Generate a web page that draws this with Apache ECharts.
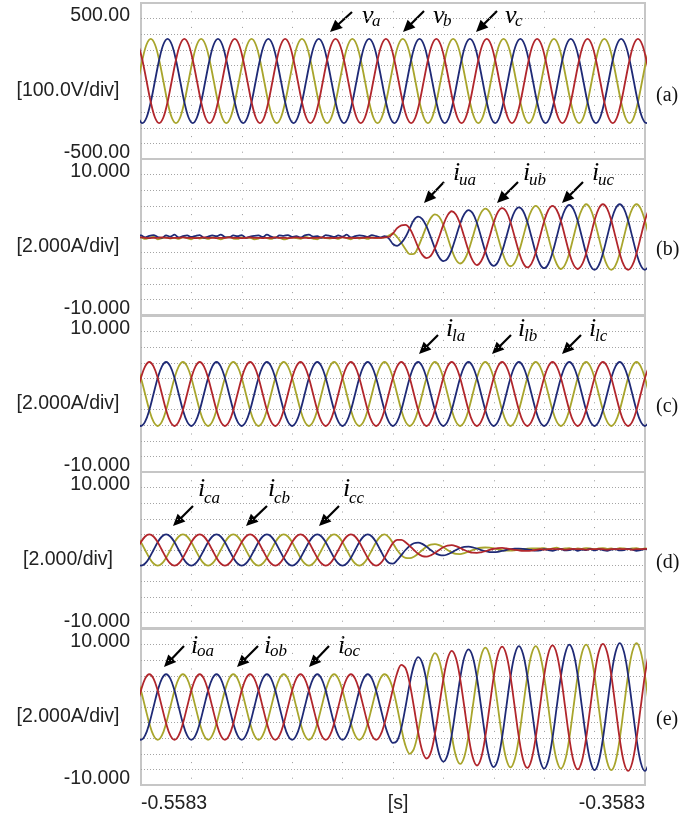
<!DOCTYPE html>
<html>
<head>
<meta charset="utf-8">
<script src="https://cdn.jsdelivr.net/npm/echarts@6.0.0/dist/echarts.min.js"></script>
<style>
html,body{margin:0;padding:0;background:#ffffff;}
#chart{width:699px;height:822px;}
</style>
</head>
<body>
<div id="chart"></div>
<script>
// ================= DATA =================
const sampleStepMs = 20 / 12;                         // spacing of the stored samples (ms)
const panelStartMs = [-1.13, -1.7, -1.7, -1.7, -1.7];  // time of the first stored sample, ms after -0.5583 s
const yLimits = [500, 10, 10, 10, 10];
const yTopLabels = ['500.00', '10.000', '10.000', '10.000', '10.000'];
const yBottomLabels = ['-500.00', '-10.000', '-10.000', '-10.000', '-10.000'];
const yUnitLabels = ['[100.0V/div]', '[2.000A/div]', '[2.000A/div]', '[2.000/div]', '[2.000A/div]'];
const panelLetters = ['(a)', '(b)', '(c)', '(d)', '(e)'];
const xTickValues = [0, 102, 200];
const xTickLabels = ['-0.5583', '[s]', '-0.3583'];

// (a) grid voltages, V
const va = [
234,135,0,-135,-234,-270,-234,-135,0,135,234,270,
234,135,0,-135,-234,-270,-234,-135,0,135,234,270,
234,135,0,-135,-234,-270,-234,-135,0,135,234,270,
234,135,0,-135,-234,-270,-234,-135,0,135,234,270,
234,135,0,-135,-234,-270,-234,-135,0,135,234,270,
234,135,0,-135,-234,-270,-234,-135,0,135,234,270,
234,135,0,-135,-234,-270,-234,-135,0,135,234,270,
234,135,0,-135,-234,-270,-234,-135,0,135,234,270,
234,135,0,-135,-234,-270,-234,-135,0,135,234,270,
234,135,0,-135,-234,-270,-234,-135,0,135,234,270,
234,135,0];
const vb = [
0,135,234,270,234,135,0,-135,-234,-270,-234,-135,
0,135,234,270,234,135,0,-135,-234,-270,-234,-135,
0,135,234,270,234,135,0,-135,-234,-270,-234,-135,
0,135,234,270,234,135,0,-135,-234,-270,-234,-135,
0,135,234,270,234,135,0,-135,-234,-270,-234,-135,
0,135,234,270,234,135,0,-135,-234,-270,-234,-135,
0,135,234,270,234,135,0,-135,-234,-270,-234,-135,
0,135,234,270,234,135,0,-135,-234,-270,-234,-135,
0,135,234,270,234,135,0,-135,-234,-270,-234,-135,
0,135,234,270,234,135,0,-135,-234,-270,-234,-135,
0,135,234];
const vc = [
-234,-270,-234,-135,0,135,234,270,234,135,0,-135,
-234,-270,-234,-135,0,135,234,270,234,135,0,-135,
-234,-270,-234,-135,0,135,234,270,234,135,0,-135,
-234,-270,-234,-135,0,135,234,270,234,135,0,-135,
-234,-270,-234,-135,0,135,234,270,234,135,0,-135,
-234,-270,-234,-135,0,135,234,270,234,135,0,-135,
-234,-270,-234,-135,0,135,234,270,234,135,0,-135,
-234,-270,-234,-135,0,135,234,270,234,135,0,-135,
-234,-270,-234,-135,0,135,234,270,234,135,0,-135,
-234,-270,-234,-135,0,135,234,270,234,135,0,-135,
-234,-270,-234];

// (b) compensator currents iu, A
const iua = [
-0.1,-0.05,-0.1,-0.15,-0.1,-0.1,-0.05,-0.1,-0.15,-0.1,-0.1,-0.05,
-0.1,-0.1,-0.15,-0.1,-0.05,-0.1,-0.1,-0.15,-0.1,-0.1,-0.05,-0.1,
-0.1,-0.15,-0.1,-0.05,-0.1,-0.1,-0.15,-0.1,-0.1,-0.05,-0.1,-0.1,
-0.15,-0.1,-0.05,-0.1,-0.1,-0.15,-0.1,-0.1,-0.05,-0.1,-0.1,-0.15,
-0.1,-0.05,-0.1,-0.1,-0.15,-0.1,-0.1,-0.05,-0.1,-0.1,-0.1,-0.05,
0,0.45,1.13,1.5,1.56,1.1,0,-1.3,-2.29,-2.7,-2.42,-1.45,
0,1.55,2.77,3.3,2.9,1.7,0,-1.73,-3.03,-3.6,-3.12,-1.83,
0,1.85,3.2,3.7,3.25,1.88,0,-1.9,-3.33,-3.9,-3.42,-2,
0,2,3.46,4,3.46,2.05,0,-2.05,-3.55,-4.1,-3.55,-2.1,
0,2.1,3.64,4.2,3.64,2.1,0,-2.1,-3.64,-4.2,-3.64,-2.1,
0,2.1,3.64];
const iub = [
0.1,0.2,-0.05,0.15,0.25,0,-0.1,0.2,0.05,0.3,-0.05,0.1,
0.2,0,0.15,0.25,-0.1,0.05,0.2,0.1,0.3,0,-0.05,0.2,
0.1,0.25,-0.1,0.05,0.15,0.2,0,0.3,0.05,-0.1,0.2,0.15,
0.25,0,0.1,-0.05,0.2,0.3,0.05,0.1,-0.1,0.25,0.15,0,
0.2,0.05,0.3,-0.05,0.1,0.2,0.15,0,0.25,0.1,-0.05,0.1,
-0.17,-0.9,-1.13,-0.75,0,1.1,2.17,2.6,2.29,1.35,0,-1.45,
-2.6,-3.1,-2.77,-1.65,0,1.7,2.94,3.45,3.03,1.8,0,-1.83,
-3.2,-3.7,-3.2,-1.85,0,1.88,3.29,3.8,3.33,1.95,0,-2,
-3.46,-4,-3.46,-2,0,2.05,3.55,4.1,3.55,2.05,0,-2.1,
-3.64,-4.2,-3.64,-2.1,0,2.1,3.64,4.2,3.64,2.1,0,-2.1,
-3.64,-4.2,-3.64];
const iuc = [
-0.2,-0.05,-0.25,-0.1,0,-0.3,-0.15,-0.05,-0.2,-0.1,-0.25,0,
-0.15,-0.3,-0.05,-0.2,-0.1,-0.25,-0.05,-0.15,-0.3,-0.1,0,-0.2,
-0.25,-0.05,-0.15,-0.1,-0.3,-0.2,0,-0.15,-0.25,-0.05,-0.1,-0.3,
-0.2,-0.05,-0.15,-0.25,0,-0.1,-0.2,-0.3,-0.05,-0.15,-0.2,-0.1,
-0.25,0,-0.15,-0.3,-0.05,-0.2,-0.1,-0.25,-0.05,-0.15,-0.1,-0.05,
0.17,0.45,0,-0.75,-1.56,-2.2,-2.17,-1.3,0,1.35,2.42,2.9,
2.6,1.55,0,-1.65,-2.9,-3.4,-2.94,-1.73,0,1.8,3.12,3.65,
3.2,1.85,0,-1.85,-3.25,-3.75,-3.29,-1.9,0,1.95,3.42,4,
3.46,2,0,-2,-3.46,-4.1,-3.55,-2.05,0,2.05,3.55,4.2,
3.64,2.1,0,-2.1,-3.64,-4.2,-3.64,-2.1,0,2.1,3.64,4.2,
3.64,2.1,0];

// (c) load currents il, A
const ila = [
0,2.05,3.55,4.1,3.55,2.05,0,-2.05,-3.55,-4.1,-3.55,-2.05,
0,2.05,3.55,4.1,3.55,2.05,0,-2.05,-3.55,-4.1,-3.55,-2.05,
0,2.05,3.55,4.1,3.55,2.05,0,-2.05,-3.55,-4.1,-3.55,-2.05,
0,2.05,3.55,4.1,3.55,2.05,0,-2.05,-3.55,-4.1,-3.55,-2.05,
0,2.05,3.55,4.1,3.55,2.05,0,-2.05,-3.55,-4.1,-3.55,-2.05,
0,2.05,3.55,4.1,3.55,2.05,0,-2.05,-3.55,-4.1,-3.55,-2.05,
0,2.05,3.55,4.1,3.55,2.05,0,-2.05,-3.55,-4.1,-3.55,-2.05,
0,2.05,3.55,4.1,3.55,2.05,0,-2.05,-3.55,-4.1,-3.55,-2.05,
0,2.05,3.55,4.1,3.55,2.05,0,-2.05,-3.55,-4.1,-3.55,-2.05,
0,2.05,3.55,4.1,3.55,2.05,0,-2.05,-3.55,-4.1,-3.55,-2.05,
0,2.05,3.55];
const ilb = [
-3.55,-4.1,-3.55,-2.05,0,2.05,3.55,4.1,3.55,2.05,0,-2.05,
-3.55,-4.1,-3.55,-2.05,0,2.05,3.55,4.1,3.55,2.05,0,-2.05,
-3.55,-4.1,-3.55,-2.05,0,2.05,3.55,4.1,3.55,2.05,0,-2.05,
-3.55,-4.1,-3.55,-2.05,0,2.05,3.55,4.1,3.55,2.05,0,-2.05,
-3.55,-4.1,-3.55,-2.05,0,2.05,3.55,4.1,3.55,2.05,0,-2.05,
-3.55,-4.1,-3.55,-2.05,0,2.05,3.55,4.1,3.55,2.05,0,-2.05,
-3.55,-4.1,-3.55,-2.05,0,2.05,3.55,4.1,3.55,2.05,0,-2.05,
-3.55,-4.1,-3.55,-2.05,0,2.05,3.55,4.1,3.55,2.05,0,-2.05,
-3.55,-4.1,-3.55,-2.05,0,2.05,3.55,4.1,3.55,2.05,0,-2.05,
-3.55,-4.1,-3.55,-2.05,0,2.05,3.55,4.1,3.55,2.05,0,-2.05,
-3.55,-4.1,-3.55];
const ilc = [
3.55,2.05,0,-2.05,-3.55,-4.1,-3.55,-2.05,0,2.05,3.55,4.1,
3.55,2.05,0,-2.05,-3.55,-4.1,-3.55,-2.05,0,2.05,3.55,4.1,
3.55,2.05,0,-2.05,-3.55,-4.1,-3.55,-2.05,0,2.05,3.55,4.1,
3.55,2.05,0,-2.05,-3.55,-4.1,-3.55,-2.05,0,2.05,3.55,4.1,
3.55,2.05,0,-2.05,-3.55,-4.1,-3.55,-2.05,0,2.05,3.55,4.1,
3.55,2.05,0,-2.05,-3.55,-4.1,-3.55,-2.05,0,2.05,3.55,4.1,
3.55,2.05,0,-2.05,-3.55,-4.1,-3.55,-2.05,0,2.05,3.55,4.1,
3.55,2.05,0,-2.05,-3.55,-4.1,-3.55,-2.05,0,2.05,3.55,4.1,
3.55,2.05,0,-2.05,-3.55,-4.1,-3.55,-2.05,0,2.05,3.55,4.1,
3.55,2.05,0,-2.05,-3.55,-4.1,-3.55,-2.05,0,2.05,3.55,4.1,
3.55,2.05,0];

// (d) capacitor currents ic, A
const ica = [
0,1,1.73,2,1.73,1,0,-1,-1.73,-2,-1.73,-1,
0,1,1.73,2,1.73,1,0,-1,-1.73,-2,-1.73,-1,
0,1,1.73,2,1.73,1,0,-1,-1.73,-2,-1.73,-1,
0,1,1.73,2,1.73,1,0,-1,-1.73,-2,-1.73,-1,
0,1,1.73,2,1.73,1,0,-1,-1.73,-2,-1.73,-1,
0,0.88,1.3,1.3,1,0.53,0,-0.48,-0.78,-0.85,-0.69,-0.38,
0,0.35,0.57,0.62,0.5,0.26,0,-0.21,-0.35,-0.37,-0.29,-0.16,
0.02,0.16,0.25,0.26,0.21,0.12,0.03,-0.05,-0.1,-0.1,-0.07,0,
0.1,0.05,0.1,0.15,0.1,0.1,0.05,0.1,0.15,0.1,0.1,0.05,
0.1,0.1,0.15,0.1,0.05,0.1,0.1,0.15,0.1,0.1,0.05,0.1,
0.1,0.15,0.1];
const icb = [
-1.73,-2,-1.73,-1,0,1,1.73,2,1.73,1,0,-1,
-1.73,-2,-1.73,-1,0,1,1.73,2,1.73,1,0,-1,
-1.73,-2,-1.73,-1,0,1,1.73,2,1.73,1,0,-1,
-1.73,-2,-1.73,-1,0,1,1.73,2,1.73,1,0,-1,
-1.73,-2,-1.73,-1,0,1,1.73,2,1.73,1,0,-1,
-1.65,-1.75,-1.3,-0.65,0,0.53,0.87,0.95,0.78,0.43,0,-0.38,
-0.62,-0.7,-0.57,-0.31,0,0.26,0.4,0.42,0.35,0.19,0,-0.16,
-0.26,-0.28,-0.23,-0.12,0,0.1,0.16,0.17,0.14,0.08,0,-0.08,
-0.05,0.1,0,-0.1,0.05,0.15,-0.05,0,0.1,-0.1,0.05,0,
0.15,-0.05,0.1,0,-0.1,0.05,0.1,-0.05,0,0.15,0.05,-0.1,
0,0.1,0.05];
const icc = [
1.73,1,0,-1,-1.73,-2,-1.73,-1,0,1,1.73,2,
1.73,1,0,-1,-1.73,-2,-1.73,-1,0,1,1.73,2,
1.73,1,0,-1,-1.73,-2,-1.73,-1,0,1,1.73,2,
1.73,1,0,-1,-1.73,-2,-1.73,-1,0,1,1.73,2,
1.73,1,0,-1,-1.73,-2,-1.73,-1,0,1,1.73,2,
1.65,0.88,0,-0.65,-1,-1.05,-0.87,-0.48,0,0.43,0.69,0.75,
0.62,0.35,0,-0.31,-0.5,-0.52,-0.4,-0.21,0,0.19,0.29,0.32,
0.3,0.2,0.08,-0.02,-0.08,-0.08,-0.04,0.03,0.1,0.18,0.22,0.22,
0.2,0.25,0.1,0.2,0.3,0.15,0.2,0.25,0.1,0.2,0.15,0.25,
0.2,0.1,0.2,0.25,0.15,0.2,0.1,0.25,0.2,0.15,0.2,0.25,
0.1,0.2,0.15];

// (e) output currents io, A
const ioa = [
0,2.1,3.64,4.2,3.64,2.1,0,-2.1,-3.64,-4.2,-3.64,-2.1,
0,2.1,3.64,4.2,3.64,2.1,0,-2.1,-3.64,-4.2,-3.64,-2.1,
0,2.1,3.64,4.2,3.64,2.1,0,-2.1,-3.64,-4.2,-3.64,-2.1,
0,2.1,3.64,4.2,3.64,2.1,0,-2.1,-3.64,-4.2,-3.64,-2.1,
0,2.1,3.64,4.2,3.64,2.1,0,-2.1,-3.64,-4.2,-3.64,-2.1,
0,2.3,4.33,5.4,4.98,3,0,-3.2,-5.63,-6.6,-5.85,-3.45,
0,3.5,6.15,7.2,6.28,3.65,0,-3.7,-6.45,-7.5,-6.54,-3.8,
0,3.85,6.71,7.75,6.71,3.88,0,-3.9,-6.75,-7.8,-6.75,-3.9,
0,3.95,6.84,7.9,6.84,3.95,0,-4,-6.93,-8,-6.93,-4,
0,4.05,7.01,8.1,7.01,4.05,0,-4.1,-7.1,-8.2,-7.1,-4.1,
0,4.1,7.1];
const iob = [
-3.64,-4.2,-3.64,-2.1,0,2.1,3.64,4.2,3.64,2.1,0,-2.1,
-3.64,-4.2,-3.64,-2.1,0,2.1,3.64,4.2,3.64,2.1,0,-2.1,
-3.64,-4.2,-3.64,-2.1,0,2.1,3.64,4.2,3.64,2.1,0,-2.1,
-3.64,-4.2,-3.64,-2.1,0,2.1,3.64,4.2,3.64,2.1,0,-2.1,
-3.64,-4.2,-3.64,-2.1,0,2.1,3.64,4.2,3.64,2.1,0,-2.1,
-3.72,-4.6,-4.33,-2.7,0,3,5.37,6.4,5.63,3.3,0,-3.45,
-6.02,-7,-6.15,-3.6,0,3.65,6.37,7.4,6.45,3.75,0,-3.8,
-6.62,-7.7,-6.71,-3.88,0,3.88,6.71,7.8,6.75,3.9,0,-3.9,
-6.75,-7.9,-6.84,-3.95,0,3.95,6.84,8,6.93,4,0,-4,
-6.93,-8.1,-7.01,-4.05,0,4.05,7.01,8.2,7.1,4.1,0,-4.1,
-7.1,-8.2,-7.1];
const ioc = [
3.64,2.1,0,-2.1,-3.64,-4.2,-3.64,-2.1,0,2.1,3.64,4.2,
3.64,2.1,0,-2.1,-3.64,-4.2,-3.64,-2.1,0,2.1,3.64,4.2,
3.64,2.1,0,-2.1,-3.64,-4.2,-3.64,-2.1,0,2.1,3.64,4.2,
3.64,2.1,0,-2.1,-3.64,-4.2,-3.64,-2.1,0,2.1,3.64,4.2,
3.64,2.1,0,-2.1,-3.64,-4.2,-3.64,-2.1,0,2.1,3.64,4.2,
3.72,2.3,0,-2.7,-4.98,-6,-5.37,-3.2,0,3.3,5.85,6.9,
6.02,3.5,0,-3.6,-6.28,-7.3,-6.37,-3.7,0,3.75,6.54,7.6,
6.62,3.85,0,-3.88,-6.71,-7.75,-6.71,-3.9,0,3.9,6.75,7.8,
6.75,3.95,0,-3.95,-6.84,-7.9,-6.84,-4,0,4,6.93,8,
6.93,4.05,0,-4.05,-7.01,-8.1,-7.01,-4.1,0,4.1,7.1,8.2,
7.1,4.1,0];

// ================= STYLE / LAYOUT =================
const RED = '#b1262c', BLUE = '#1f2a76', OLIVE = '#a8a52c';
const panels = [
  [{n:'vb', d:vb, c:OLIVE}, {n:'vc', d:vc, c:BLUE}, {n:'va', d:va, c:RED}],
  [{n:'iuc', d:iuc, c:OLIVE}, {n:'iub', d:iub, c:BLUE}, {n:'iua', d:iua, c:RED}],
  [{n:'ilc', d:ilc, c:OLIVE}, {n:'ilb', d:ilb, c:BLUE}, {n:'ila', d:ila, c:RED}],
  [{n:'icc', d:icc, c:OLIVE}, {n:'icb', d:icb, c:BLUE}, {n:'ica', d:ica, c:RED}],
  [{n:'ioc', d:ioc, c:OLIVE}, {n:'iob', d:iob, c:BLUE}, {n:'ioa', d:ioa, c:RED}]
];
const gridLeft = 141, gridWidth = 504, gridHeight = 156;
const gridTops = [3, 159, 316, 472, 629];
const letterY = [96, 250, 407, 563, 720];
const unitCenterX = 68;

const annotations = [
  {m:'v', s:'a', mx:362, my:16, sx:372, sy:22, tail:[352,12], tip:[330,32]},
  {m:'v', s:'b', mx:433, my:16, sx:443, sy:22, tail:[424,11], tip:[403,32]},
  {m:'v', s:'c', mx:505, my:16, sx:515, sy:22, tail:[497,11], tip:[476,32]},
  {m:'i', s:'ua', mx:453, my:173, sx:459, sy:181, tail:[444,182], tip:[424,203]},
  {m:'i', s:'ub', mx:523, my:173, sx:529, sy:181, tail:[518,182], tip:[497,203]},
  {m:'i', s:'uc', mx:592, my:173, sx:598, sy:181, tail:[583,182], tip:[562,203]},
  {m:'i', s:'la', mx:446, my:329, sx:452, sy:337, tail:[438,335], tip:[419,354]},
  {m:'i', s:'lb', mx:518, my:329, sx:524, sy:337, tail:[511,335], tip:[492,354]},
  {m:'i', s:'lc', mx:589, my:329, sx:595, sy:337, tail:[581,335], tip:[562,354]},
  {m:'i', s:'ca', mx:198, my:489, sx:204, sy:499, tail:[193,506], tip:[173,526]},
  {m:'i', s:'cb', mx:268, my:489, sx:274, sy:499, tail:[267,506], tip:[246,526]},
  {m:'i', s:'cc', mx:343, my:489, sx:349, sy:499, tail:[339,506], tip:[319,526]},
  {m:'i', s:'oa', mx:191, my:646, sx:197, sy:652, tail:[184,646], tip:[164,667]},
  {m:'i', s:'ob', mx:264, my:646, sx:270, sy:652, tail:[258,646], tip:[237,667]},
  {m:'i', s:'oc', mx:338, my:646, sx:344, sy:652, tail:[329,646], tip:[309,667]}
];

const LABEL_FONT = 'Liberation Sans';
const LABEL_SIZE = 19.5;
const measureCtx = document.createElement('canvas').getContext('2d');
measureCtx.font = LABEL_SIZE + 'px "' + LABEL_FONT + '"';

const grids = [], xAxes = [], yAxes = [], series = [], graphics = [];

for (let p = 0; p < 5; p++) {
  grids.push({left: gridLeft, top: gridTops[p], width: gridWidth, height: gridHeight,
    containLabel: false, outerBoundsMode: 'none',
    show: true, borderColor: '#c6c6c6', borderWidth: 2, backgroundColor: '#ffffff'});
  const last = p === 4;
  xAxes.push({
    type: 'value', gridIndex: p, min: 0, max: 200, interval: 20,
    axisLine: {show: false}, axisTick: {show: false},
    splitLine: {show: true, showMinLine: false, showMaxLine: false,
      lineStyle: {color: '#9a9a9a', width: 1, type: [1, 14.6], dashOffset: 7.3}},
    axisLabel: last ? {
      show: true, customValues: xTickValues,
      formatter: v => xTickLabels[xTickValues.indexOf(v)],
      alignMinLabel: 'left', alignMaxLabel: 'right',
      margin: 9, fontSize: LABEL_SIZE, fontFamily: LABEL_FONT, color: '#222'
    } : {show: false}
  });
  const L = yLimits[p];
  const unitW = measureCtx.measureText(yUnitLabels[p]).width;
  yAxes.push({
    type: 'value', gridIndex: p, min: -L, max: L, interval: L / 5,
    axisLine: {show: false}, axisTick: {show: false},
    splitLine: {show: true, showMinLine: false, showMaxLine: false,
      lineStyle: {color: '#a4a4a4', width: 1, type: [1, 2]}},
    axisLabel: {
      customValues: [-L, L],
      formatter: v => (v > 0 ? yTopLabels[p] : yBottomLabels[p]),
      verticalAlignMinLabel: 'bottom', verticalAlignMaxLabel: 'top',
      padding: [3, 0, -4, 0],
      margin: 11, fontSize: LABEL_SIZE, fontFamily: LABEL_FONT, color: '#222'
    },
    name: yUnitLabels[p], nameLocation: 'middle', nameRotate: 0,
    nameMoveOverlap: false,
    nameGap: gridLeft - unitCenterX - unitW / 2,
    nameTextStyle: {fontSize: LABEL_SIZE, fontFamily: LABEL_FONT, color: '#222',
      align: 'right', verticalAlign: 'top'}
  });
  panels[p].forEach(s => {
    series.push({
      name: s.n, type: 'line', xAxisIndex: p, yAxisIndex: p,
      data: s.d.map((v, k) => [panelStartMs[p] + k * sampleStepMs, v]),
      showSymbol: false, symbol: 'none', smooth: 0.35, clip: true,
      lineStyle: {color: s.c, width: 1.8}, itemStyle: {color: s.c},
      animation: false, silent: true
    });
  });
  graphics.push({type: 'text', x: 656, y: letterY[p],
    style: {text: panelLetters[p], font: '20px "Liberation Serif"', fill: '#111',
      textAlign: 'left', textVerticalAlign: 'middle'}});
}

annotations.forEach(a => {
  graphics.push({type: 'text', x: a.mx, y: a.my,
    style: {text: a.m, font: 'italic 26px "Liberation Serif"', fill: '#000',
      textAlign: 'left', textVerticalAlign: 'middle'}});
  graphics.push({type: 'text', x: a.sx, y: a.sy,
    style: {text: a.s, font: 'italic 17px "Liberation Serif"', fill: '#000',
      textAlign: 'left', textVerticalAlign: 'middle'}});
  const dx = a.tip[0] - a.tail[0], dy = a.tip[1] - a.tail[1];
  const len = Math.sqrt(dx * dx + dy * dy), ux = dx / len, uy = dy / len;
  const nx = -uy, ny = ux, hl = 12, hw = 5.5;
  graphics.push({type: 'line',
    shape: {x1: a.tail[0], y1: a.tail[1], x2: a.tip[0] - ux * (hl - 2), y2: a.tip[1] - uy * (hl - 2)},
    style: {stroke: '#000', lineWidth: 2.2}});
  graphics.push({type: 'polygon',
    shape: {points: [a.tip,
      [a.tip[0] - ux * hl + nx * hw, a.tip[1] - uy * hl + ny * hw],
      [a.tip[0] - ux * hl - nx * hw, a.tip[1] - uy * hl - ny * hw]]},
    style: {fill: '#000'}});
});

const chart = echarts.init(document.getElementById('chart'), null, {renderer: 'canvas'});
chart.setOption({
  backgroundColor: '#ffffff',
  animation: false,
  grid: grids, xAxis: xAxes, yAxis: yAxes, series: series,
  graphic: graphics
});
</script>
</body>
</html>
